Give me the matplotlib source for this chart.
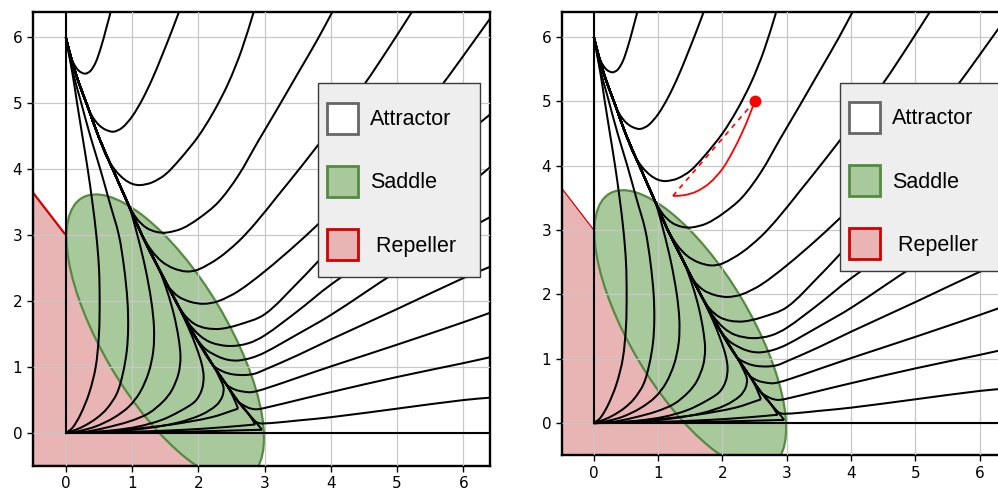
import numpy as np
import matplotlib.pyplot as plt
from matplotlib.patches import Ellipse, Polygon, Patch, PathPatch, Rectangle
from matplotlib.path import Path

# shared path: the bundle that runs from (0,6) down to the cusp near (3,0)
diag_x = [0, 0.05, 0.12, 0.2, 0.33, 0.5, 0.73, 0.95, 1.15, 1.4, 1.66, 1.93, 2.22, 2.42, 2.6, 2.75, 2.88, 2.96]
diag_y = [6, 5.8, 5.55, 5.3, 4.95, 4.48, 3.95, 3.45, 3.0, 2.5, 2.0, 1.5, 1.03, 0.74, 0.48, 0.3, 0.15, 0.07]

# curves leaving (0,6) and running off the top / right edge
# out_k = how many points of the shared path each curve follows first
out_k = [1, 4, 6, 8, 9, 10, 11, 11, 12, 13, 14, 15, 16]
out_x = [
    [0.06, 0.12, 0.2, 0.29, 0.37, 0.45, 0.53, 0.6, 0.68],
    [0.3, 0.4, 0.5, 0.6, 0.72, 0.85, 1.0, 1.15, 1.3, 1.45, 1.6, 1.72],
    [0.62, 0.75, 0.88, 1.0, 1.12, 1.3, 1.5, 1.72, 2.0, 2.23, 2.45, 2.65, 2.84],
    [1.08, 1.22, 1.37, 1.52, 1.75, 2.0, 2.3, 2.6, 2.9, 3.2, 3.5, 3.8, 4.03],
    [1.3, 1.45, 1.62, 1.82, 2.0, 2.3, 2.6, 2.86, 3.2, 3.6, 4.0, 4.5, 4.9, 5.22],
    [1.55, 1.7, 1.88, 2.08, 2.3, 2.6, 3.0, 3.5, 4.0, 4.5, 5.0, 5.62, 6.0, 6.45],
    [1.8, 1.95, 2.12, 2.33, 2.6, 3.0, 3.5, 4.0, 4.5, 5.0, 5.5, 6.0, 6.45],
    [1.85, 2.02, 2.2, 2.47, 2.75, 3.0, 3.5, 4.0, 5.0, 6.0, 6.45],
    [2.1, 2.3, 2.45, 2.6, 2.8, 3.0, 3.5, 4.0, 5.0, 6.0, 6.45],
    [2.38, 2.52, 2.7, 2.85, 3.0, 3.5, 4.0, 5.0, 6.0, 6.45],
    [2.55, 2.67, 2.8, 3.0, 3.5, 4.0, 5.0, 6.0, 6.45],
    [2.72, 2.8, 2.88, 3.0, 3.5, 4.0, 5.0, 6.0, 6.45],
    [2.84, 2.9, 2.96, 3.2, 3.5, 4.0, 5.0, 6.0, 6.45],
]
out_y = [
    [5.76, 5.6, 5.49, 5.45, 5.49, 5.62, 5.85, 6.1, 6.4],
    [5.02, 4.8, 4.67, 4.6, 4.57, 4.63, 4.8, 5.05, 5.36, 5.72, 6.1, 6.42],
    [4.18, 3.98, 3.85, 3.78, 3.76, 3.8, 3.92, 4.15, 4.5, 4.87, 5.3, 5.8, 6.4],
    [3.24, 3.11, 3.05, 3.04, 3.1, 3.25, 3.5, 3.9, 4.42, 4.93, 5.45, 5.97, 6.4],
    [2.76, 2.6, 2.5, 2.45, 2.48, 2.65, 2.9, 3.18, 3.6, 4.1, 4.62, 5.28, 5.88, 6.38],
    [2.22, 2.07, 1.99, 1.96, 2.0, 2.15, 2.45, 2.88, 3.35, 3.85, 4.4, 5.2, 5.72, 6.35],
    [1.78, 1.65, 1.59, 1.58, 1.64, 1.8, 2.28, 2.8, 3.25, 3.7, 4.1, 4.5, 4.87],
    [1.67, 1.48, 1.37, 1.32, 1.36, 1.48, 1.85, 2.25, 2.95, 3.7, 4.07],
    [1.28, 1.16, 1.11, 1.1, 1.14, 1.22, 1.5, 1.79, 2.45, 3.05, 3.3],
    [0.93, 0.89, 0.88, 0.9, 0.96, 1.18, 1.42, 1.88, 2.35, 2.54],
    [0.66, 0.63, 0.62, 0.67, 0.84, 1.01, 1.34, 1.68, 1.84],
    [0.4, 0.37, 0.36, 0.38, 0.5, 0.62, 0.85, 1.06, 1.16],
    [0.19, 0.155, 0.145, 0.16, 0.19, 0.24, 0.37, 0.5, 0.54],
]

# curves joining (0,6) and (0,0)
in_k = [1, 1, 8, 10, 11, 13, 14, 16, 17]
in_x = [
    [0.1, 0.17, 0.25, 0.33, 0.4, 0.46, 0.5, 0.51, 0.5, 0.45, 0.35, 0.22, 0.1, 0],
    [0.1, 0.22, 0.37, 0.52, 0.66, 0.8, 0.88, 0.93, 0.94, 0.92, 0.86, 0.77, 0.62, 0.47, 0.3, 0.15, 0],
    [1.08, 1.2, 1.29, 1.33, 1.32, 1.25, 1.12, 0.95, 0.72, 0.45, 0.2, 0],
    [1.53, 1.63, 1.7, 1.73, 1.7, 1.6, 1.47, 1.25, 0.97, 0.6, 0.3, 0],
    [1.85, 1.97, 2.05, 2.08, 2.05, 1.95, 1.72, 1.45, 1.1, 0.7, 0.3, 0],
    [2.32, 2.38, 2.36, 2.27, 2.05, 1.7, 1.2, 0.6, 0],
    [2.52, 2.6, 2.2, 1.6, 1.0, 0.5, 0],
    [2.86, 2.4, 1.8, 1.0, 0],
    [2.96, 2.2, 1.2, 0],
]
in_y = [
    [5.45, 5.0, 4.5, 4.0, 3.5, 3.0, 2.5, 2.0, 1.5, 1.0, 0.6, 0.28, 0.08, 0],
    [5.5, 5.05, 4.5, 4.0, 3.5, 3.0, 2.5, 2.0, 1.6, 1.25, 0.9, 0.6, 0.37, 0.23, 0.12, 0.05, 0],
    [3.0, 2.5, 2.0, 1.6, 1.25, 0.92, 0.62, 0.4, 0.23, 0.1, 0.03, 0],
    [2.15, 1.8, 1.45, 1.15, 0.9, 0.65, 0.48, 0.3, 0.18, 0.08, 0.02, 0],
    [1.6, 1.3, 1.05, 0.85, 0.65, 0.48, 0.33, 0.2, 0.1, 0.04, 0.01, 0],
    [0.84, 0.69, 0.55, 0.42, 0.28, 0.16, 0.07, 0.02, 0],
    [0.56, 0.37, 0.24, 0.13, 0.06, 0.02, 0],
    [0.13, 0.09, 0.05, 0.02, 0],
    [0.05, 0.03, 0.01, 0],
]

# region outlines
repeller_pts = [(-0.5, -0.5), (-0.5, 3.65), (0, 3), (2.3, -0.5)]
saddle_center = (1.5, 1.45)
saddle_w, saddle_h, saddle_angle = 4.92, 1.87, -59.3

# red trajectory on the right panel
red_pt = (2.5, 5.0)
red_x = [2.5, 2.42, 2.3, 2.15, 2.0, 1.8, 1.6, 1.4, 1.23]
red_y = [5.0, 4.78, 4.5, 4.2, 3.95, 3.73, 3.6, 3.54, 3.53]
red_dash_x = [2.5, 1.23]
red_dash_y = [5.0, 3.53]

ticks = [0, 1, 2, 3, 4, 5, 6]
labels = ['Attractor', 'Saddle', ' Repeller']

green_face = '#a7c99b'
green_edge = '#558b3f'
red_face = '#e8b4b4'
red_edge = '#d40000'


def smooth_path(xs, ys):
    # smooth line through the read points (cubic pieces), corners kept at cusps
    p = np.column_stack([xs, ys]).astype(float)
    pieces = [[0]]
    for i in range(1, len(p) - 1):
        a = p[i] - p[i - 1]
        b = p[i + 1] - p[i]
        pieces[-1].append(i)
        if np.dot(a, b) < 0:
            pieces.append([i])
    pieces[-1].append(len(p) - 1)
    verts, codes = [], []
    for idx in pieces:
        q = p[idx]
        n = len(q)
        verts.append(q[0])
        codes.append(Path.MOVETO)
        for i in range(n - 1):
            p0 = q[max(i - 1, 0)]
            p1 = q[i]
            p2 = q[i + 1]
            p3 = q[min(i + 2, n - 1)]
            d01 = np.hypot(*(p1 - p0)) + 1e-9
            d12 = np.hypot(*(p2 - p1)) + 1e-9
            d23 = np.hypot(*(p3 - p2)) + 1e-9
            m1 = (p2 - p0) * d12 / (d01 + d12) if i > 0 else (p2 - p1)
            m2 = (p3 - p1) * d12 / (d12 + d23) if i < n - 2 else (p2 - p1)
            verts += [p1 + m1 / 3, p2 - m2 / 3, p2]
            codes += [Path.CURVE4] * 3
    return Path(verts, codes)


def draw_curve(ax, xs, ys, **kw):
    ax.add_patch(PathPatch(smooth_path(xs, ys), fill=False, **kw))


def draw_panel(ax, frame_box, handle_corner, red_lw, with_red):
    ax.add_patch(Polygon(repeller_pts, closed=True, facecolor=red_face,
                         edgecolor=red_edge, lw=red_lw, zorder=1))
    ax.add_patch(Ellipse(saddle_center, saddle_w, saddle_h, angle=saddle_angle,
                         facecolor=green_face, edgecolor=green_edge, lw=1.6, zorder=1.5))
    # invariant axes lines
    ax.plot([0, 0], [0, 6.6], color='black', lw=1.5, zorder=3)
    ax.plot([0, 6.6], [0, 0], color='black', lw=1.5, zorder=3)
    for k, bx, by in zip(out_k, out_x, out_y):
        draw_curve(ax, diag_x[:k] + bx, diag_y[:k] + by, edgecolor='black', lw=1.45,
                   zorder=3, joinstyle='round')
    for k, bx, by in zip(in_k, in_x, in_y):
        draw_curve(ax, diag_x[:k] + bx, diag_y[:k] + by, edgecolor='black', lw=1.45,
                   zorder=3, joinstyle='miter')
    if with_red:
        draw_curve(ax, red_x, red_y, edgecolor='red', lw=1.3, zorder=4)
        ax.plot(red_dash_x, red_dash_y, color='red', lw=1.2, ls=(0, (3, 3)), zorder=4)
        ax.plot(*red_pt, 'o', color='red', ms=7.5, zorder=5)

    ax.set_xlim(-0.5, 6.4)
    ax.set_ylim(-0.5, 6.38)
    ax.set_xticks(ticks)
    ax.set_yticks(ticks)
    ax.tick_params(labelsize=11, length=4, width=1)
    ax.set_axisbelow(False)
    ax.grid(True, color='#c8c8c8', lw=0.9)
    for sp in ax.spines.values():
        sp.set_linewidth(1.7)
        sp.set_color('black')

    # legend box drawn by hand so the padding matches
    ax.add_patch(Rectangle(frame_box[:2], frame_box[2], frame_box[3], transform=ax.transAxes,
                           facecolor='#eeeeee', edgecolor='#3a3a3a', lw=1.0,
                           zorder=5.5, clip_on=False))
    handles = [Patch(facecolor='white', edgecolor='#666666', lw=2),
               Patch(facecolor=green_face, edgecolor=green_edge, lw=2),
               Patch(facecolor=red_face, edgecolor=red_edge, lw=2)]
    leg = ax.legend(handles, labels, loc='upper left', bbox_to_anchor=handle_corner,
                    borderaxespad=0, borderpad=0, frameon=False,
                    prop={'family': 'Liberation Sans', 'size': 15.5},
                    handlelength=1.44, handleheight=1.84, labelspacing=1.5,
                    handletextpad=0.56)
    leg.set_zorder(6)


fig = plt.figure(figsize=(9.98, 4.91), dpi=100)
ax1 = fig.add_axes([0.0328, 0.0509, 0.458, 0.924])
ax2 = fig.add_axes([0.5628, 0.0727, 0.4446, 0.902])

draw_panel(ax1, (0.625, 0.4172, 0.3545, 0.4263), (0.6446, 0.8008), 1.6, False)
draw_panel(ax2, (0.6272, 0.4167, 0.3651, 0.4244), (0.6475, 0.7982), 0.9, True)

fig.savefig('out.png', dpi=100)
